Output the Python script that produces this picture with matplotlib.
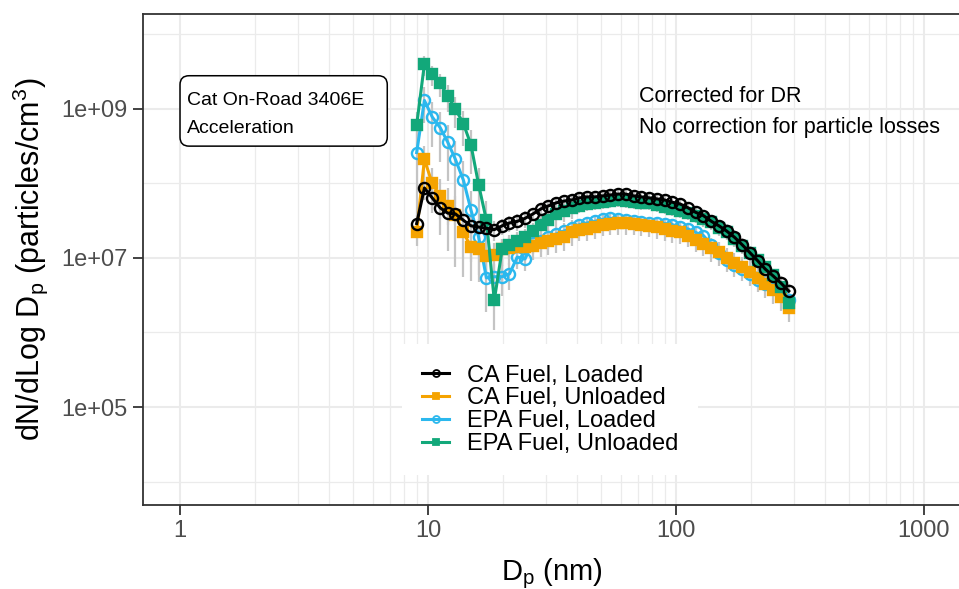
import matplotlib
matplotlib.use("Agg")
import numpy as np
import matplotlib.pyplot as plt
from matplotlib.lines import Line2D
from matplotlib.patches import FancyBboxPatch
from matplotlib.transforms import IdentityTransform

plt.rcParams['font.family'] = ['Liberation Sans', 'DejaVu Sans']
plt.rcParams['mathtext.fontset'] = 'custom'
plt.rcParams['mathtext.rm'] = 'Liberation Sans'
plt.rcParams['mathtext.it'] = 'Liberation Sans:italic'

# Particle diameters (nm), SMPS channels
diameter_nm = [9.00, 9.67, 10.4, 11.2, 12.0, 12.9, 13.9, 14.9, 16.0, 17.2,
               18.5, 19.9, 21.3, 22.9, 24.6, 26.5, 28.5, 30.6, 32.9, 35.3,
               38.0, 40.8, 43.8, 47.1, 50.6, 54.4, 58.5, 62.8, 67.5, 72.5,
               77.9, 83.8, 90.0, 96.7, 104, 112, 120, 129, 139, 149,
               160, 172, 185, 199, 214, 229, 247, 265, 285]

# dN/dlogDp (particles/cm3)
ca_loaded = [2.9e7, 8.7e7, 6.4e7, 4.7e7, 4.0e7, 3.9e7, 3.2e7, 2.7e7, 2.6e7, 2.5e7,
             2.4e7, 2.7e7, 2.95e7, 3.1e7, 3.4e7, 3.9e7, 4.55e7, 5.0e7, 5.5e7, 5.8e7,
             6.0e7, 6.4e7, 6.6e7, 6.6e7, 6.8e7, 7.0e7, 7.2e7, 7.2e7, 6.8e7, 6.6e7,
             6.4e7, 6.2e7, 6.0e7, 5.6e7, 5.3e7, 4.7e7, 4.1e7, 3.7e7, 3.1e7, 2.7e7,
             2.3e7, 1.9e7, 1.5e7, 1.17e7, 9.1e6, 7.1e6, 5.7e6, 4.6e6, 3.6e6]
ca_unloaded = [2.2e7, 2.1e8, 1.0e8, 6.8e7, 5.0e7, 3.8e7, 2.2e7, 1.4e7, 1.3e7, 1.06e7,
               1.1e7, 1.3e7, 1.36e7, 1.4e7, 1.4e7, 1.45e7, 1.6e7, 1.7e7, 1.8e7, 1.9e7,
               2.2e7, 2.4e7, 2.45e7, 2.6e7, 2.8e7, 2.9e7, 2.95e7, 2.95e7, 2.9e7, 2.8e7,
               2.7e7, 2.6e7, 2.45e7, 2.3e7, 2.2e7, 2.0e7, 1.74e7, 1.54e7, 1.36e7, 1.2e7,
               1.0e7, 8.6e6, 7.6e6, 6.5e6, 5.4e6, 4.5e6, 3.7e6, 3.0e6, 2.1e6]
epa_loaded = [2.6e8, 1.3e9, 7.8e8, 5.6e8, 3.6e8, 2.1e8, 1.1e8, 4.4e7, 1.9e7, 5.4e6,
              5.6e6, 5.6e6, 6.1e6, 1.03e7, 9.7e6, 1.6e7, 1.7e7, 1.9e7, 2.1e7, 2.3e7,
              2.5e7, 2.8e7, 2.95e7, 3.1e7, 3.3e7, 3.4e7, 3.3e7, 3.2e7, 3.1e7, 3.0e7,
              2.95e7, 2.95e7, 2.9e7, 2.8e7, 2.6e7, 2.45e7, 2.2e7, 2.0e7, 1.5e7, 1.15e7,
              9.4e6, 8.1e6, 7.1e6, 6.1e6, 5.1e6, 4.5e6, 4.0e6, 3.4e6, 2.7e6]
epa_unloaded = [6.1e8, 4.0e9, 2.9e9, 2.2e9, 1.5e9, 1.0e9, 6.3e8, 3.3e8, 9.6e7, 3.2e7,
                2.7e6, 1.3e7, 1.5e7, 1.7e7, 1.9e7, 2.3e7, 2.8e7, 3.2e7, 3.9e7, 4.3e7,
                4.7e7, 5.0e7, 5.3e7, 5.5e7, 5.6e7, 5.8e7, 6.0e7, 5.8e7, 5.6e7, 5.5e7,
                5.5e7, 5.2e7, 4.8e7, 4.6e7, 4.3e7, 4.0e7, 3.7e7, 3.3e7, 3.0e7, 2.5e7,
                2.2e7, 1.8e7, 1.45e7, 1.17e7, 9.4e6, 7.6e6, 5.9e6, 4.1e6, 2.5e6]

# Run-to-run variability, as standard deviation relative to the mean
ca_loaded_cv = [0.3, 0.3, 0.3, 0.3, 0.3, 0.3, 0.3, 0.3, 0.3, 0.3,
                0.3, 0.25, 0.25, 0.25, 0.25, 0.2, 0.2, 0.2, 0.2, 0.2,
                0.2, 0.2, 0.2, 0.2, 0.2, 0.2, 0.2, 0.2, 0.2, 0.2,
                0.2, 0.2, 0.2, 0.2, 0.2, 0.2, 0.2, 0.2, 0.2, 0.2,
                0.25, 0.25, 0.25, 0.25, 0.25, 0.25, 0.25, 0.25, 0.25]
ca_unloaded_cv = [0.35, 0.5, 0.6, 0.7, 0.75, 0.8, 0.75, 0.65, 0.55, 0.5,
                  0.45, 0.4, 0.4, 0.35, 0.35, 0.35, 0.35, 0.35, 0.35, 0.35,
                  0.35, 0.3, 0.3, 0.3, 0.3, 0.3, 0.3, 0.3, 0.3, 0.3,
                  0.3, 0.3, 0.3, 0.3, 0.3, 0.3, 0.3, 0.3, 0.35, 0.35,
                  0.35, 0.35, 0.35, 0.35, 0.35, 0.35, 0.35, 0.35, 0.35]
epa_loaded_cv = [0.9, 0.5, 0.6, 0.65, 0.7, 0.75, 0.8, 0.8, 0.75, 0.65,
                 0.5, 0.45, 0.4, 0.3, 0.3, 0.3, 0.3, 0.3, 0.3, 0.3,
                 0.3, 0.2, 0.2, 0.2, 0.2, 0.2, 0.2, 0.2, 0.2, 0.2,
                 0.2, 0.2, 0.2, 0.2, 0.2, 0.2, 0.2, 0.2, 0.2, 0.2,
                 0.2, 0.2, 0.2, 0.2, 0.2, 0.2, 0.2, 0.2, 0.2]
epa_unloaded_cv = [0.5, 0.3, 0.3, 0.35, 0.4, 0.45, 0.5, 0.6, 0.7, 0.8,
                   0.6, 0.4, 0.35, 0.3, 0.3, 0.3, 0.3, 0.3, 0.3, 0.3,
                   0.3, 0.2, 0.2, 0.2, 0.2, 0.2, 0.2, 0.2, 0.2, 0.2,
                   0.2, 0.2, 0.2, 0.2, 0.2, 0.2, 0.2, 0.2, 0.2, 0.2,
                   0.2, 0.2, 0.2, 0.2, 0.2, 0.2, 0.2, 0.2, 0.2]

labels = ["CA Fuel, Loaded", "CA Fuel, Unloaded", "EPA Fuel, Loaded", "EPA Fuel, Unloaded"]
colors = ["#000000", "#F5A300", "#2BB8EE", "#12A87A"]
markers = ["o", "s", "o", "s"]
filled = [False, True, False, True]
series = [ca_loaded, ca_unloaded, epa_loaded, epa_unloaded]
cvs = [ca_loaded_cv, ca_unloaded_cv, epa_loaded_cv, epa_unloaded_cv]
# drawing order (bottom to top)
z_order = [9, 6, 5, 7]

x_ticks = [1, 10, 100, 1000]
x_ticklabels = ["1", "10", "100", "1000"]
y_ticks = [1e5, 1e7, 1e9]
y_ticklabels = ["1e+05", "1e+07", "1e+09"]

W, H = 959, 589
fig = plt.figure(figsize=(W / 100, H / 100), dpi=100)
ax = fig.add_axes([143 / W, 84 / H, 817 / W, 491 / H])
ax.set_xscale("log")
ax.set_yscale("log")
ax.set_xlim(0.709, 1397)
ax.set_ylim(4.84e3, 1.88e10)

d = np.array(diameter_nm)
for vals, cv, col, mk, fill, lab, z in zip(series, cvs, colors, markers, filled, labels, z_order):
    v = np.array(vals)
    c = np.array(cv)
    ax.vlines(d, v * (1 - c), v * (1 + c), color="#C4C4C4", lw=1.6, zorder=2)
    ax.plot(d, v, color=col, lw=2.2, marker=mk, ms=8 if mk == "o" else 7.5,
            mew=1.7, mfc=(col if fill else "none"), mec=col, zorder=z, label=lab)

# grid
ax.set_xticks(x_ticks)
ax.set_xticklabels(x_ticklabels)
ax.set_xticks([m * 10 ** e for e in range(0, 3) for m in range(2, 10)], minor=True)
ax.set_yticks(y_ticks)
ax.set_yticklabels(y_ticklabels)
ax.set_yticks([1e4, 1e6, 1e8, 1e10], minor=True)
ax.yaxis.set_minor_formatter(plt.NullFormatter())
ax.xaxis.set_minor_formatter(plt.NullFormatter())
ax.grid(which="major", color="#EBEBEB", lw=1.5)
ax.grid(which="minor", color="#EBEBEB", lw=0.9)
ax.set_axisbelow(True)
ax.tick_params(which="minor", length=0)
ax.tick_params(which="major", length=7, width=1.3, color="#333333",
               labelsize=17, labelcolor="#4D4D4D", pad=4)
for s in ax.spines.values():
    s.set_color("#333333")
    s.set_linewidth(1.3)

ax.set_xlabel(r"D$_\mathregular{p}$ (nm)", fontsize=21, labelpad=10)
ax.set_ylabel(r"dN/dLog D$_\mathregular{p}$ (particles/cm$^\mathregular{3}$)", fontsize=22, labelpad=8)

engine_txt = ax.text(1.067, 8.44e8, "Cat On-Road 3406E\nAcceleration", ha="left", va="center",
                     fontsize=14, linespacing=1.8, zorder=12)
ax.text(71, 9.1e8, "Corrected for DR\nNo correction for particle losses", ha="left", va="center",
        fontsize=15.5, linespacing=1.66, zorder=12)

handles = [Line2D([], [], color=c, lw=2.2, marker=m, ms=5, mew=1.3,
                  mfc=(c if f else "none"), mec=c)
           for c, m, f in zip(colors, markers, filled)]
leg = ax.legend(handles, labels, loc="upper left", bbox_to_anchor=(0.317, 0.327),
                fontsize=17, frameon=True, fancybox=False, framealpha=1,
                edgecolor="none", facecolor="white", handlelength=1.15,
                handletextpad=0.75, labelspacing=0.04, borderpad=0.85, borderaxespad=0)
leg.set_zorder(11)

# rounded label box around the engine / cycle annotation
fig.canvas.draw()
bb = engine_txt.get_window_extent(fig.canvas.get_renderer())
box = FancyBboxPatch((bb.x0 - 7, bb.y0 - 9.5), bb.width + 30, bb.height + 26,
                     boxstyle="round,pad=0,rounding_size=9", fc="white", ec="black",
                     lw=1.1, transform=IdentityTransform(), zorder=11)
ax.add_artist(box)

fig.savefig("out.png", dpi=100)
